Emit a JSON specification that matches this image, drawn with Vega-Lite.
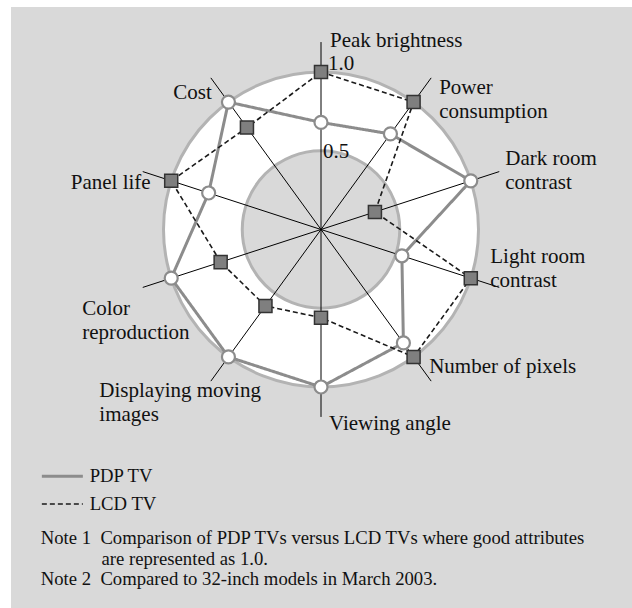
{
  "$schema": "https://vega.github.io/schema/vega-lite/v6.json",
  "width": 621,
  "height": 601,
  "autosize": {"type": "none"},
  "padding": {"left": 11, "top": 7, "right": 0, "bottom": 0},
  "background": "#ffffff",
  "config": {"view": {"fill": "#d9d9d9", "stroke": null}, "font": "Liberation Serif"},
  "datasets": {
    "scores": [
      {"axis": "Peak brightness", "order": 0, "tv": "PDP TV", "value": 0.68},
      {"axis": "Peak brightness", "order": 0, "tv": "LCD TV", "value": 1.0},
      {"axis": "Power consumption", "order": 1, "tv": "PDP TV", "value": 0.75},
      {"axis": "Power consumption", "order": 1, "tv": "LCD TV", "value": 1.0},
      {"axis": "Dark room contrast", "order": 2, "tv": "PDP TV", "value": 1.0},
      {"axis": "Dark room contrast", "order": 2, "tv": "LCD TV", "value": 0.36},
      {"axis": "Light room contrast", "order": 3, "tv": "PDP TV", "value": 0.54},
      {"axis": "Light room contrast", "order": 3, "tv": "LCD TV", "value": 1.0},
      {"axis": "Number of pixels", "order": 4, "tv": "PDP TV", "value": 0.89},
      {"axis": "Number of pixels", "order": 4, "tv": "LCD TV", "value": 1.0},
      {"axis": "Viewing angle", "order": 5, "tv": "PDP TV", "value": 1.0},
      {"axis": "Viewing angle", "order": 5, "tv": "LCD TV", "value": 0.56},
      {"axis": "Displaying moving images", "order": 6, "tv": "PDP TV", "value": 1.0},
      {"axis": "Displaying moving images", "order": 6, "tv": "LCD TV", "value": 0.6},
      {"axis": "Color reproduction", "order": 7, "tv": "PDP TV", "value": 1.0},
      {"axis": "Color reproduction", "order": 7, "tv": "LCD TV", "value": 0.67},
      {"axis": "Panel life", "order": 8, "tv": "PDP TV", "value": 0.75},
      {"axis": "Panel life", "order": 8, "tv": "LCD TV", "value": 1.0},
      {"axis": "Cost", "order": 9, "tv": "PDP TV", "value": 1.0},
      {"axis": "Cost", "order": 9, "tv": "LCD TV", "value": 0.8}
    ],
    "axes": [
      {"order": 0, "label": "Peak brightness"},
      {"order": 1, "label": "Power\nconsumption"},
      {"order": 2, "label": "Dark room\ncontrast"},
      {"order": 3, "label": "Light room\ncontrast"},
      {"order": 4, "label": "Number of pixels"},
      {"order": 5, "label": "Viewing angle"},
      {"order": 6, "label": "Displaying moving\nimages"},
      {"order": 7, "label": "Color\nreproduction"},
      {"order": 8, "label": "Panel life"},
      {"order": 9, "label": "Cost"}
    ],
    "rings": [
      {"r": 1.0, "label": "1.0"},
      {"r": 0.5, "label": "0.5"}
    ]
  },
  "title": {
    "text": [
      "Note 1\u00a0\u00a0Comparison of PDP TVs versus LCD TVs where good attributes",
      "\u200b\u00a0\u00a0\u00a0\u00a0\u00a0\u00a0\u00a0\u00a0\u00a0\u00a0\u00a0\u00a0\u00a0are represented as 1.0.",
      "Note 2\u00a0\u00a0Compared to 32-inch models in March 2003."
    ],
    "orient": "bottom",
    "anchor": "start",
    "frame": "group",
    "baseline": "alphabetic",
    "offset": 0,
    "dx": 29.7,
    "dy": -64,
    "font": "Liberation Serif",
    "fontSize": 18.7,
    "fontWeight": "normal",
    "color": "#111111",
    "lineHeight": 20.5
  },
  "layer": [
    {
      "data": {"name": "rings"},
      "transform": [{"calculate": "0", "as": "c"}],
      "mark": {"type": "point", "shape": "circle", "filled": true, "stroke": "#b3b3b3", "strokeWidth": 3, "opacity": 1},
      "encoding": {
        "x": {"field": "c", "type": "quantitative", "scale": {"domain": [-1.9683, 1.9746], "nice": false, "zero": false}, "axis": null},
        "y": {"field": "c", "type": "quantitative", "scale": {"domain": [-2.4032, 1.4127], "nice": false, "zero": false}, "axis": null},
        "size": {"field": "r", "type": "quantitative", "scale": {"type": "pow", "exponent": 2, "domain": [0, 1], "range": [0, 99225]}, "legend": null},
        "fill": {"field": "label", "type": "nominal", "scale": {"domain": ["1.0", "0.5"], "range": ["#ffffff", "#d9d9d9"]}, "legend": null}
      }
    },
    {
      "data": {"name": "axes"},
      "transform": [
        {"calculate": "0", "as": "c"},
        {"calculate": "datum.order * PI / 5", "as": "a"},
        {"calculate": "1.19 * sin(datum.a)", "as": "ex"},
        {"calculate": "1.19 * cos(datum.a)", "as": "ey"}
      ],
      "mark": {"type": "rule", "color": "#000000", "strokeWidth": 1},
      "encoding": {
        "x": {"field": "c", "type": "quantitative", "axis": null},
        "y": {"field": "c", "type": "quantitative", "axis": null},
        "x2": {"field": "ex"},
        "y2": {"field": "ey"}
      }
    },
    {
      "data": {"name": "scores"},
      "transform": [
        {"filter": "datum.tv == 'PDP TV'"},
        {"calculate": "datum.order * PI / 5", "as": "a"},
        {"calculate": "datum.value * sin(datum.a)", "as": "px"},
        {"calculate": "datum.value * cos(datum.a)", "as": "py"}
      ],
      "mark": {"type": "line", "interpolate": "linear-closed", "strokeWidth": 3},
      "encoding": {
        "x": {"field": "px", "type": "quantitative", "axis": null},
        "y": {"field": "py", "type": "quantitative", "axis": null},
        "order": {"field": "order"},
        "color": {
          "field": "tv", "type": "nominal",
          "scale": {"domain": ["PDP TV", "LCD TV"], "range": ["#8c8c8c", "#1a1a1a"]},
          "legend": {"orient": "none", "legendX": 42, "legendY": 460, "title": null, "symbolType": "stroke", "symbolSize": 1681, "labelFont": "Liberation Serif", "labelFontSize": 18.7, "labelColor": "#111111", "labelOffset": 18, "rowPadding": 7.7, "padding": 0,
            "encode": {"symbols": {"update": {"strokeWidth": {"signal": "datum.value == 'PDP TV' ? 3 : 1.6"}}}}}
        },
        "strokeDash": {
          "field": "tv", "type": "nominal",
          "scale": {"domain": ["PDP TV", "LCD TV"], "range": [[1, 0], [5, 3]]},
          "legend": {"orient": "none", "legendX": 42, "legendY": 460, "title": null, "symbolType": "stroke", "symbolSize": 1681, "labelFont": "Liberation Serif", "labelFontSize": 18.7, "labelColor": "#111111", "labelOffset": 18, "rowPadding": 7.7, "padding": 0,
            "encode": {"symbols": {"update": {"strokeWidth": {"signal": "datum.value == 'PDP TV' ? 3 : 1.6"}}}}}
        }
      }
    },
    {
      "data": {"name": "scores"},
      "transform": [
        {"filter": "datum.tv == 'LCD TV'"},
        {"calculate": "datum.order * PI / 5", "as": "a"},
        {"calculate": "datum.value * sin(datum.a)", "as": "px"},
        {"calculate": "datum.value * cos(datum.a)", "as": "py"}
      ],
      "mark": {"type": "line", "interpolate": "linear-closed", "strokeWidth": 1.6},
      "encoding": {
        "x": {"field": "px", "type": "quantitative", "axis": null},
        "y": {"field": "py", "type": "quantitative", "axis": null},
        "order": {"field": "order"},
        "color": {"field": "tv", "type": "nominal"},
        "strokeDash": {"field": "tv", "type": "nominal"}
      }
    },
    {
      "data": {"name": "scores"},
      "transform": [
        {"filter": "datum.tv == 'PDP TV'"},
        {"calculate": "datum.order * PI / 5", "as": "a"},
        {"calculate": "datum.value * sin(datum.a)", "as": "px"},
        {"calculate": "datum.value * cos(datum.a)", "as": "py"}
      ],
      "mark": {"type": "point", "shape": "circle", "filled": true, "fill": "#ffffff", "stroke": "#8c8c8c", "strokeWidth": 2.2, "size": 169, "opacity": 1},
      "encoding": {
        "x": {"field": "px", "type": "quantitative", "axis": null},
        "y": {"field": "py", "type": "quantitative", "axis": null}
      }
    },
    {
      "data": {"name": "scores"},
      "transform": [
        {"filter": "datum.tv == 'LCD TV'"},
        {"calculate": "datum.order * PI / 5", "as": "a"},
        {"calculate": "datum.value * sin(datum.a)", "as": "px"},
        {"calculate": "datum.value * cos(datum.a)", "as": "py"}
      ],
      "mark": {"type": "point", "shape": "square", "filled": true, "fill": "#7f7f7f", "stroke": "#333333", "strokeWidth": 1.5, "size": 170, "opacity": 1},
      "encoding": {
        "x": {"field": "px", "type": "quantitative", "axis": null},
        "y": {"field": "py", "type": "quantitative", "axis": null}
      }
    },
    {
      "data": {"name": "rings"},
      "transform": [{"filter": "datum.r == 1"}, {"calculate": "0", "as": "c"}],
      "mark": {"type": "text", "align": "left", "baseline": "alphabetic", "dx": 7, "dy": -2, "fontSize": 21, "color": "#111111"},
      "encoding": {"x": {"field": "c", "type": "quantitative", "axis": null}, "y": {"field": "r", "type": "quantitative", "axis": null}, "text": {"field": "label"}}
    },
    {
      "data": {"name": "rings"},
      "transform": [{"filter": "datum.r == 0.5"}, {"calculate": "0", "as": "c"}],
      "mark": {"type": "text", "align": "left", "baseline": "alphabetic", "dx": 2, "dy": 7, "fontSize": 21, "color": "#111111"},
      "encoding": {"x": {"field": "c", "type": "quantitative", "axis": null}, "y": {"field": "r", "type": "quantitative", "axis": null}, "text": {"field": "label"}}
    },
    {
      "data": {"name": "axes"},
      "transform": [{"filter": "datum.order == 0"}, {"calculate": "datum.order * PI / 5", "as": "a"}, {"calculate": "1.19 * sin(datum.a)", "as": "ex"}, {"calculate": "1.19 * cos(datum.a)", "as": "ey"}],
      "mark": {"type": "text", "align": "left", "baseline": "alphabetic", "dx": 9, "dy": 5, "fontSize": 21, "lineBreak": "\n", "lineHeight": 24, "color": "#111111"},
      "encoding": {"x": {"field": "ex", "type": "quantitative", "axis": null}, "y": {"field": "ey", "type": "quantitative", "axis": null}, "text": {"field": "label"}}
    },
    {
      "data": {"name": "axes"},
      "transform": [{"filter": "datum.order == 1"}, {"calculate": "datum.order * PI / 5", "as": "a"}, {"calculate": "1.19 * sin(datum.a)", "as": "ex"}, {"calculate": "1.19 * cos(datum.a)", "as": "ey"}],
      "mark": {"type": "text", "align": "left", "baseline": "alphabetic", "dx": 8, "dy": 16, "fontSize": 21, "lineBreak": "\n", "lineHeight": 24, "color": "#111111"},
      "encoding": {"x": {"field": "ex", "type": "quantitative", "axis": null}, "y": {"field": "ey", "type": "quantitative", "axis": null}, "text": {"field": "label"}}
    },
    {
      "data": {"name": "axes"},
      "transform": [{"filter": "datum.order == 2"}, {"calculate": "datum.order * PI / 5", "as": "a"}, {"calculate": "1.19 * sin(datum.a)", "as": "ex"}, {"calculate": "1.19 * cos(datum.a)", "as": "ey"}],
      "mark": {"type": "text", "align": "left", "baseline": "alphabetic", "dx": 6, "dy": -6.5, "fontSize": 21, "lineBreak": "\n", "lineHeight": 24, "color": "#111111"},
      "encoding": {"x": {"field": "ex", "type": "quantitative", "axis": null}, "y": {"field": "ey", "type": "quantitative", "axis": null}, "text": {"field": "label"}}
    },
    {
      "data": {"name": "axes"},
      "transform": [{"filter": "datum.order == 3"}, {"calculate": "datum.order * PI / 5", "as": "a"}, {"calculate": "1.19 * sin(datum.a)", "as": "ex"}, {"calculate": "1.19 * cos(datum.a)", "as": "ey"}],
      "mark": {"type": "text", "align": "left", "baseline": "alphabetic", "dx": -9, "dy": -24, "fontSize": 21, "lineBreak": "\n", "lineHeight": 24, "color": "#111111"},
      "encoding": {"x": {"field": "ex", "type": "quantitative", "axis": null}, "y": {"field": "ey", "type": "quantitative", "axis": null}, "text": {"field": "label"}}
    },
    {
      "data": {"name": "axes"},
      "transform": [{"filter": "datum.order == 4"}, {"calculate": "datum.order * PI / 5", "as": "a"}, {"calculate": "1.19 * sin(datum.a)", "as": "ex"}, {"calculate": "1.19 * cos(datum.a)", "as": "ey"}],
      "mark": {"type": "text", "align": "left", "baseline": "alphabetic", "dx": -2, "dy": -8.5, "fontSize": 21, "lineBreak": "\n", "lineHeight": 24, "color": "#111111"},
      "encoding": {"x": {"field": "ex", "type": "quantitative", "axis": null}, "y": {"field": "ey", "type": "quantitative", "axis": null}, "text": {"field": "label"}}
    },
    {
      "data": {"name": "axes"},
      "transform": [{"filter": "datum.order == 5"}, {"calculate": "datum.order * PI / 5", "as": "a"}, {"calculate": "1.19 * sin(datum.a)", "as": "ex"}, {"calculate": "1.19 * cos(datum.a)", "as": "ey"}],
      "mark": {"type": "text", "align": "left", "baseline": "alphabetic", "dx": 8, "dy": 13, "fontSize": 21, "lineBreak": "\n", "lineHeight": 24, "color": "#111111"},
      "encoding": {"x": {"field": "ex", "type": "quantitative", "axis": null}, "y": {"field": "ey", "type": "quantitative", "axis": null}, "text": {"field": "label"}}
    },
    {
      "data": {"name": "axes"},
      "transform": [{"filter": "datum.order == 6"}, {"calculate": "datum.order * PI / 5", "as": "a"}, {"calculate": "1.19 * sin(datum.a)", "as": "ex"}, {"calculate": "1.19 * cos(datum.a)", "as": "ey"}],
      "mark": {"type": "text", "align": "left", "baseline": "alphabetic", "dx": -111.5, "dy": 16, "fontSize": 21, "lineBreak": "\n", "lineHeight": 24, "color": "#111111"},
      "encoding": {"x": {"field": "ex", "type": "quantitative", "axis": null}, "y": {"field": "ey", "type": "quantitative", "axis": null}, "text": {"field": "label"}}
    },
    {
      "data": {"name": "axes"},
      "transform": [{"filter": "datum.order == 7"}, {"calculate": "datum.order * PI / 5", "as": "a"}, {"calculate": "1.19 * sin(datum.a)", "as": "ex"}, {"calculate": "1.19 * cos(datum.a)", "as": "ey"}],
      "mark": {"type": "text", "align": "left", "baseline": "alphabetic", "dx": -60.5, "dy": 27.5, "fontSize": 21, "lineBreak": "\n", "lineHeight": 24, "color": "#111111"},
      "encoding": {"x": {"field": "ex", "type": "quantitative", "axis": null}, "y": {"field": "ey", "type": "quantitative", "axis": null}, "text": {"field": "label"}}
    },
    {
      "data": {"name": "axes"},
      "transform": [{"filter": "datum.order == 8"}, {"calculate": "datum.order * PI / 5", "as": "a"}, {"calculate": "1.19 * sin(datum.a)", "as": "ex"}, {"calculate": "1.19 * cos(datum.a)", "as": "ey"}],
      "mark": {"type": "text", "align": "left", "baseline": "alphabetic", "dx": -72, "dy": 17.7, "fontSize": 21, "lineBreak": "\n", "lineHeight": 24, "color": "#111111"},
      "encoding": {"x": {"field": "ex", "type": "quantitative", "axis": null}, "y": {"field": "ey", "type": "quantitative", "axis": null}, "text": {"field": "label"}}
    },
    {
      "data": {"name": "axes"},
      "transform": [{"filter": "datum.order == 9"}, {"calculate": "datum.order * PI / 5", "as": "a"}, {"calculate": "1.19 * sin(datum.a)", "as": "ex"}, {"calculate": "1.19 * cos(datum.a)", "as": "ey"}],
      "mark": {"type": "text", "align": "left", "baseline": "alphabetic", "dx": -37.5, "dy": 21.5, "fontSize": 21, "lineBreak": "\n", "lineHeight": 24, "color": "#111111"},
      "encoding": {"x": {"field": "ex", "type": "quantitative", "axis": null}, "y": {"field": "ey", "type": "quantitative", "axis": null}, "text": {"field": "label"}}
    }
  ]
}
